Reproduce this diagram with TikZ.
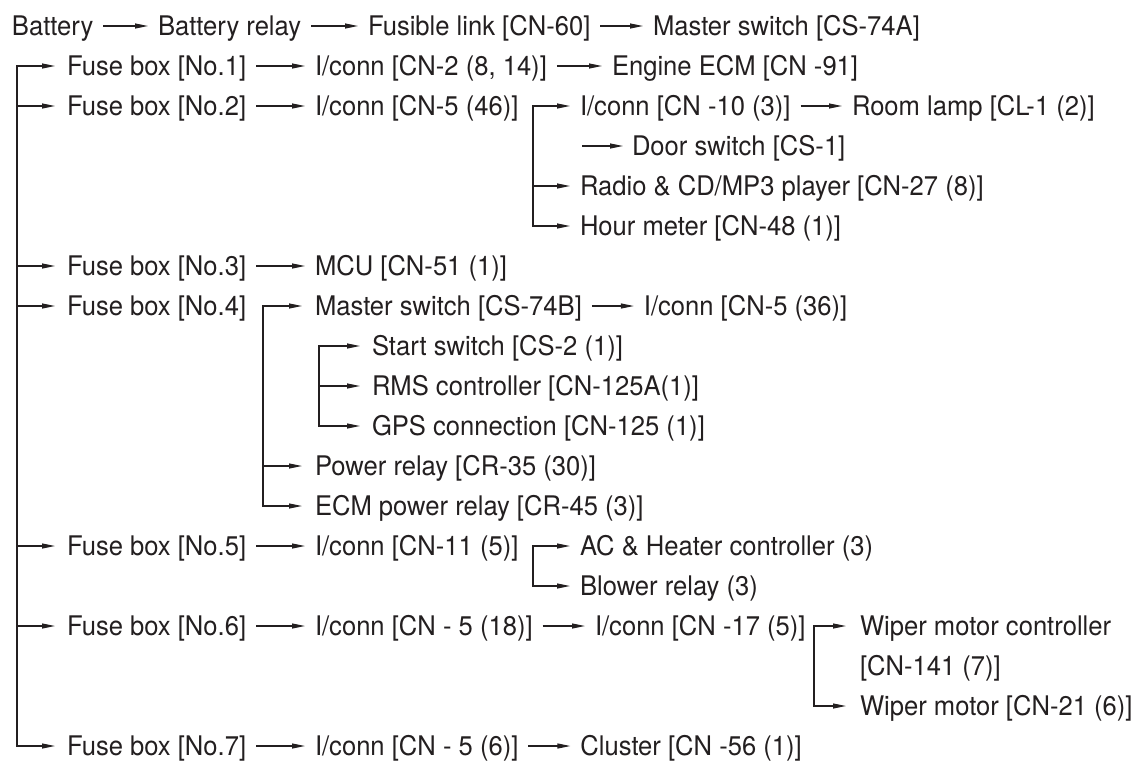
\documentclass[tikz,border=0pt]{standalone}
\usepackage{fontspec}
\setmainfont[FakeStretch=0.948]{TeX Gyre Heros}
\usetikzlibrary{arrows.meta,positioning,calc}
\definecolor{ink}{RGB}{35,31,32}
\begin{document}
\begin{tikzpicture}[x=1pt,y=-1pt,
  txt/.style={anchor=west,inner sep=0pt,outer sep=0pt,text height=19.3pt,text depth=0pt,
              font=\fontsize{27}{30}\selectfont,text=ink},
  arr/.style={draw=ink,line width=1.1pt,-{Triangle[length=13pt,width=5pt]}},
  barr/.style={draw=ink,line width=1.1pt,{Triangle[length=13pt,width=5pt]}-{Triangle[length=13pt,width=5pt]}}]
\useasboundingbox (0,0) rectangle (1146,761);
% row 0
\node[txt] (bat) at (12,26) {Battery};
\node[txt] (brel) at (158,26) {Battery relay};
\node[txt] (fl) at (368,26) {Fusible link [CN-60]};
\node[txt] (msa) at (653,26) {Master switch [CS-74A]};
% row 1
\node[txt] (fb1) at (67,66) {Fuse box [No.1]};
\node[txt] (ic2) at (315,66) {I/conn [CN-2 (8, 14)]};
\node[txt] (ecm) at (612,66) {Engine ECM [CN -91]};
% row 2
\node[txt] (fb2) at (67,106) {Fuse box [No.2]};
\node[txt] (ic5a) at (315,106) {I/conn [CN-5 (46)]};
\coordinate (T2) at (533,106);
\node[txt] (ic10) at (580,106) {I/conn [CN -10 (3)]};
\node[txt] (room) at (852,106) {Room lamp [CL-1 (2)]};
\coordinate (d0) at ($(ic10.west)+(2,40)$);
\node[txt] (door) at ($(ic10.west)+(52,40)$) {Door switch [CS-1]};
\node[txt] (radio) at (580,186) {Radio \& CD/MP3 player [CN-27 (8)]};
\node[txt] (hour) at (580,226) {Hour meter [CN-48 (1)]};
% row 6
\node[txt] (fb3) at (67,266) {Fuse box [No.3]};
\node[txt] (mcu) at (315,266) {MCU [CN-51 (1)]};
% row 7
\node[txt] (fb4) at (67,306) {Fuse box [No.4]};
\node[txt] (msb) at (315,306) {Master switch [CS-74B]};
\coordinate (T4) at (263,306);
\node[txt,right=62pt of msb] (ic5b) {I/conn [CN-5 (36)]};
\coordinate (T4b) at (319,346);
\node[txt] (start) at (372,346) {Start switch [CS-2 (1)]};
\node[txt] (rms) at (372,386) {RMS controller [CN-125A(1)]};
\node[txt] (gps) at (372,426) {GPS connection [CN-125 (1)]};
\node[txt] (prel) at (315,466) {Power relay [CR-35 (30)]};
\node[txt] (erel) at (315,506) {ECM power relay [CR-45 (3)]};
% row 13
\node[txt] (fb5) at (67,546) {Fuse box [No.5]};
\node[txt] (ic11) at (315,546) {I/conn [CN-11 (5)]};
\coordinate (T13) at (533,546);
\node[txt] (ac) at (580,546) {AC \& Heater controller (3)};
\node[txt] (blow) at (580,586) {Blower relay (3)};
% row 15
\node[txt] (fb6) at (67,626) {Fuse box [No.6]};
\node[txt] (ic5c) at (315,626) {I/conn [CN - 5 (18)]};
\node[txt] (ic17) at (595,626) {I/conn [CN -17 (5)]};
\coordinate (T15) at (814,626);
\node[txt] (wmc) at (860,626) {Wiper motor controller};
\node[txt] (cn141) at (860,666) {[CN-141 (7)]};
\node[txt] (wm) at (860,706) {Wiper motor [CN-21 (6)]};
% row 18
\node[txt] (fb7) at (67,746) {Fuse box [No.7]};
\node[txt] (ic5d) at (315,746) {I/conn [CN - 5 (6)]};
\node[txt,right=62pt of ic5d] (clu) {Cluster [CN -56 (1)]};
\coordinate (L) at (17,66);

% chain arrows
\foreach \a/\b in {bat/brel,brel/fl,fl/msa,fb1/ic2,ic2/ecm,fb2/ic5a,ic10/room,fb3/mcu,
                   msb/ic5b,fb5/ic11,fb6/ic5c,ic5c/ic17,fb7/ic5d,ic5d/clu}
  \draw[arr] ([xshift=10pt]\a.east) -- ([xshift=-10pt]\b.west);
\draw[arr] (d0) -- ([xshift=-9pt]door.west);

% main trunk
\draw[barr] ([xshift=-12pt]fb1.west) -- (L) -- (L |- fb7.west) -- ([xshift=-12pt]fb7.west);
\foreach \n in {fb2,fb3,fb4,fb5,fb6}
  \draw[arr] (L |- \n.west) -- ([xshift=-12pt]\n.west);
% bracket row 2
\draw[barr] ([xshift=-10pt]ic10.west) -- (T2) -- (T2 |- hour.west) -- ([xshift=-10pt]hour.west);
\draw[arr] (T2 |- radio.west) -- ([xshift=-10pt]radio.west);
% bracket row 7
\draw[barr] ([xshift=-13pt]msb.west) -- (T4) -- (T4 |- erel.west) -- ([xshift=-13pt]erel.west);
\draw[arr] (T4 |- prel.west) -- ([xshift=-13pt]prel.west);
% bracket rows 8-10
\draw[barr] ([xshift=-12pt]start.west) -- (T4b) -- (T4b |- gps.west) -- ([xshift=-12pt]gps.west);
\draw[arr] (T4b |- rms.west) -- ([xshift=-12pt]rms.west);
% bracket row 13
\draw[barr] ([xshift=-10pt]ac.west) -- (T13) -- (T13 |- blow.west) -- ([xshift=-10pt]blow.west);
% bracket row 15
\draw[barr] ([xshift=-14pt]wmc.west) -- (T15) -- (T15 |- wm.west) -- ([xshift=-14pt]wm.west);
\end{tikzpicture}
\end{document}
